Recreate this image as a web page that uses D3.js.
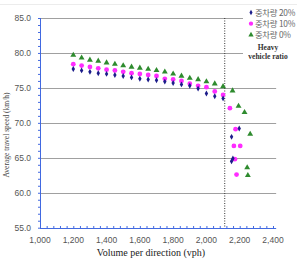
<!DOCTYPE html>
<html lang="ko">
<head>
<meta charset="UTF-8">
<title>Speed vs volume</title>
<script src="https://d3js.org/d3.v7.min.js"></script>
<style>
  body { margin: 0; background: #fff; }
  svg { display: block; }
  .grid line { stroke: #a0a0a0; stroke-width: 1; }
  .tick-label { font-family: "Liberation Sans", Arial, sans-serif; font-size: 8.5px; fill: #555; }
  .axis-title { font-family: "Liberation Serif", "Times New Roman", serif; fill: #222; }
  .legend text { font-family: "Noto Sans CJK KR", sans-serif; font-size: 8.3px; fill: #666; letter-spacing: -0.3px; }
</style>
</head>
<body>
<svg width="297" height="260"></svg>
<script>
// volumes (vph) for the uncongested part, same for all three series
const volumes = [1200, 1250, 1300, 1350, 1400, 1450, 1500, 1550, 1600, 1650,
                 1700, 1750, 1800, 1850, 1900, 1950, 2000, 2050, 2100];

const speed20 = [77.7, 77.5, 77.3, 77.1, 77.0, 76.85, 76.7, 76.5, 76.3, 76.2,
                 76.1, 75.9, 75.7, 75.5, 75.3, 74.9, 74.2, 73.8, 73.5];
const speed10 = [78.4, 78.2, 78.0, 77.8, 77.6, 77.5, 77.3, 77.1, 77.0, 76.85,
                 76.7, 76.3, 76.2, 76.0, 75.6, 75.3, 75.1, 74.5, 74.0];
const speed0  = [79.7, 79.3, 79.0, 78.85, 78.6, 78.4, 78.2, 78.0, 77.85, 77.7,
                 77.5, 77.3, 77.0, 76.7, 76.4, 76.2, 75.9, 75.6, 75.2];

// congested (breakdown) points: [volume, speed]
const jam20 = [[2197, 69.2], [2151, 68.0], [2159, 64.9], [2151, 64.5]];
const jam10 = [[2141, 72.1], [2175, 69.1], [2165, 66.7], [2203, 66.7], [2171, 64.8], [2181, 62.6]];
const jam0  = [[2157, 74.6], [2193, 72.4], [2229, 71.5], [2263, 68.4], [2245, 63.6], [2249, 62.5]];

const xTicks = [1000, 1200, 1400, 1600, 1800, 2000, 2200, 2400];
const yTicks = [55, 60, 65, 70, 75, 80, 85];
const capacityVolume = 2110;

const seriesNames = ["중차량 20%", "중차량 10%", "중차량 0%"];

const svg = d3.select("svg");
const x = d3.scaleLinear().domain([1000, 2400]).range([40, 273]);
const y = d3.scaleLinear().domain([55, 85]).range([227.7, 18]);
const xEnd = x(2419);

// faint frame line on top
svg.append("line").attr("x1", 0).attr("x2", 297).attr("y1", 4.5).attr("y2", 4.5)
  .attr("stroke", "#ececec");

// gridlines
svg.append("g").attr("class", "grid")
  .selectAll("line").data(yTicks.slice(1)).enter().append("line")
  .attr("x1", x(1000)).attr("x2", xEnd)
  .attr("y1", d => Math.round(y(d)) + 0.5).attr("y2", d => Math.round(y(d)) + 0.5);

// axes (blue line, small ticks)
const axisColor = "#4169e1";
const xAxis = d3.axisBottom(x).tickValues(d3.range(1000, 2420, 40)).tickSize(-2.5).tickFormat("");
const gx = svg.append("g").attr("transform", `translate(0,${Math.round(y(55)) + 0.5})`).call(xAxis);
gx.select(".domain").attr("d", `M${x(1000)},0H${xEnd}`);
gx.selectAll("path,line").attr("stroke", axisColor);

const yAxis = d3.axisLeft(y).tickValues(d3.range(55, 85.01, 1)).tickSize(2.5).tickFormat("");
const gy = svg.append("g").attr("transform", `translate(${Math.round(x(1000)) + 0.5},0)`).call(yAxis);
gy.select(".domain").attr("d", `M0,${y(85)}V${y(55)}`);
gy.selectAll("path,line").attr("stroke", axisColor);

// tick labels
svg.selectAll(".xl").data(xTicks).enter().append("text")
  .attr("class", "tick-label").attr("x", d => x(d)).attr("y", 243)
  .attr("text-anchor", "middle").text(d => d3.format(",")(d));
svg.selectAll(".yl").data(yTicks).enter().append("text")
  .attr("class", "tick-label").attr("x", 31).attr("y", d => y(d) + 3)
  .attr("text-anchor", "end").text(d => d.toFixed(1));

// axis titles
svg.append("text").attr("class", "axis-title")
  .attr("x", 151).attr("y", 256).attr("text-anchor", "middle")
  .style("font-size", "10px").text("Volume per direction (vph)");
svg.append("text").attr("class", "axis-title")
  .attr("transform", "translate(9,135) rotate(-90)").attr("text-anchor", "middle")
  .style("font-size", "7.5px").style("fill", "#444").text("Average travel speed (km/h)");

// capacity dotted line
svg.append("line")
  .attr("x1", x(capacityVolume)).attr("x2", x(capacityVolume))
  .attr("y1", y(85)).attr("y2", y(55))
  .attr("stroke", "#333").attr("stroke-width", 1).attr("stroke-dasharray", "1,1.5");

// points
const colors = ["#1c1c8a", "#ff2cff", "#2e8b2e"];
const sym = [d3.symbolDiamond, d3.symbolCircle, d3.symbolTriangle];
const sizes = [10, 18, 15];
const series = [
  volumes.map((v, i) => [v, speed20[i]]).concat(jam20),
  volumes.map((v, i) => [v, speed10[i]]).concat(jam10),
  volumes.map((v, i) => [v, speed0[i]]).concat(jam0)
];
// draw green first, then magenta, then blue on top
[2, 1, 0].forEach(k => {
  svg.append("g").selectAll("path").data(series[k]).enter().append("path")
    .attr("d", d3.symbol().type(sym[k]).size(sizes[k]))
    .attr("transform", d => `translate(${x(d[0])},${y(d[1])})`)
    .attr("fill", colors[k]);
});

// legend
const lg = svg.append("g").attr("class", "legend");
lg.append("rect").attr("x", 243).attr("y", 6).attr("width", 54).attr("height", 58).attr("fill", "#fff");
seriesNames.forEach((name, i) => {
  const ly = 12.5 + i * 11.2;
  lg.append("path").attr("d", d3.symbol().type(sym[i]).size(sizes[i] * 0.8))
    .attr("transform", `translate(251,${ly})`).attr("fill", colors[i]);
  lg.append("text").attr("x", 255).attr("y", ly + 3).text(name);
});
lg.append("text").attr("class", "axis-title").attr("x", 268).attr("y", 50)
  .attr("text-anchor", "middle").style("font-size", "7.5px").style("font-weight", "bold")
  .style("font-family", "Liberation Serif, serif").style("fill", "#333").style("letter-spacing", "0")
  .text("Heavy");
lg.append("text").attr("class", "axis-title").attr("x", 268).attr("y", 59)
  .attr("text-anchor", "middle").style("font-size", "7.5px").style("font-weight", "bold")
  .style("font-family", "Liberation Serif, serif").style("fill", "#333").style("letter-spacing", "0")
  .text("vehicle ratio");
</script>
</body>
</html>
